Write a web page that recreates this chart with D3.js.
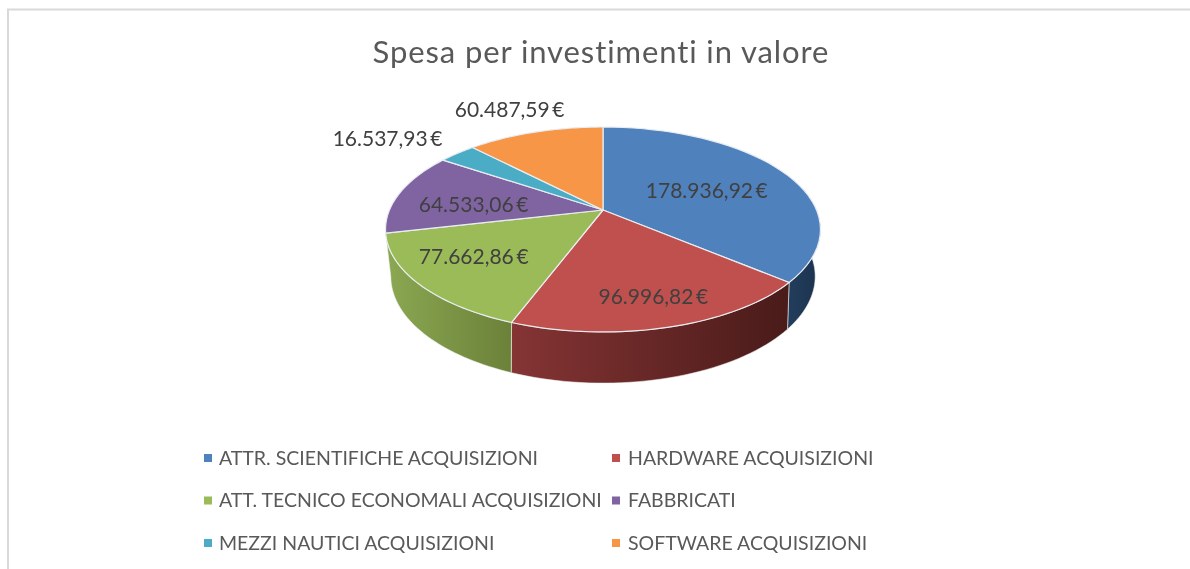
<!DOCTYPE html>
<html><head><meta charset="utf-8">
<script src="https://cdn.jsdelivr.net/npm/d3@7"></script>
<style>html,body{margin:0;padding:0;background:#fff}svg{display:block;filter:blur(0.45px)}text{font-family:Lato,"Open Sans",sans-serif}</style>
</head><body><svg id="c" width="1190" height="569"></svg>
<script>
const titleText = "Spesa per investimenti in valore";
const categories = ["ATTR. SCIENTIFICHE ACQUISIZIONI","HARDWARE ACQUISIZIONI","ATT. TECNICO ECONOMALI ACQUISIZIONI","FABBRICATI","MEZZI NAUTICI ACQUISIZIONI","SOFTWARE ACQUISIZIONI"];
const values = [178936.92,96996.82,77662.86,64533.06,16537.93,60487.59];
const valueLabels = ["178.936,92\u2009€","96.996,82\u2009€","77.662,86\u2009€","64.533,06\u2009€","16.537,93\u2009€","60.487,59\u2009€"];
const colors = ["#4f81bd","#c0504d","#9bbb59","#8064a2","#4bacc6","#f79646"];
const sideLeft = ["#24405f","#853434","#8ba852","#5f4a79","#38808f","#b86f34"];
const sideRight = ["#1b324e","#491b19","#6b8139","#4a3a60","#2c6571","#94582a"];
const labelNudge = [[-7,7],[14,24],[-25,7],[-6,7],[-124,-34],[-50,-49]];

const svg = d3.select("#c");
const defs = svg.append("defs");
const color = d3.scaleOrdinal(categories, colors);

// Frame
svg.append("path").attr("d","M8,569V9.5H1190").attr("fill","none").attr("stroke","#d9d9d9").attr("stroke-width",2);

svg.append("text").attr("x",601).attr("y",63).attr("text-anchor","middle")
  .attr("font-size",31).attr("letter-spacing",0.9).attr("fill","#595959").text(titleText);

// Pie angles through d3.pie, then a perspective projection of the disc
const arcs = d3.pie().sort(null).startAngle(0).endAngle(2*Math.PI)(values);
const projector = (cx,cy,R,A,k) => (t,f=1) => {
  const front = -Math.cos(t)*f, w = 1-k*front;
  return [cx+R*Math.sin(t)*f/w, cy+A*front/w];
};
const topP = projector(603,210,213.5,98.8,0.19);
const botP = projector(603,253,207,101.5,0.22);
const line = d3.line();
const sample = (a,b) => d3.range(0,41).map(i => a+(b-a)*i/40);

// Extruded side walls: only the slices that face the viewer (blue, red, green)
const frontSlices = arcs.slice(0,3);
const vis0 = 1.2;
frontSlices.forEach((d,i) => {
  const a = Math.max(d.startAngle,vis0), b = d.endAngle;
  const ts = sample(a,b);
  const pts = ts.map(t=>topP(t)).concat(ts.slice().reverse().map(t=>botP(t)));
  const xs = d3.extent(pts,p=>p[0]);
  const g = defs.append("linearGradient").attr("id","side"+i).attr("gradientUnits","userSpaceOnUse")
    .attr("x1",xs[0]).attr("x2",xs[1]).attr("y1",0).attr("y2",0);
  g.append("stop").attr("offset",0).attr("stop-color",sideLeft[i]);
  g.append("stop").attr("offset",1).attr("stop-color",sideRight[i]);
  svg.append("path").attr("d",line(pts)+"Z").attr("fill",`url(#side${i})`)
    .attr("stroke","#f4f4f4").attr("stroke-width",0.8).attr("stroke-opacity",0.7);
});

// Top face
svg.append("g").selectAll("path").data(arcs).join("path")
  .attr("d",d => line([topP(0,0)].concat(sample(d.startAngle,d.endAngle).map(t=>topP(t))))+"Z")
  .attr("fill",(d,i)=>color(categories[i]))
  .attr("stroke","#e9edf2").attr("stroke-width",1.2).attr("stroke-linejoin","round");

// Value labels
svg.append("g").selectAll("text").data(arcs).join("text")
  .attr("x",(d,i)=>topP((d.startAngle+d.endAngle)/2,0.6)[0]+labelNudge[i][0])
  .attr("y",(d,i)=>topP((d.startAngle+d.endAngle)/2,0.6)[1]+labelNudge[i][1])
  .attr("text-anchor","middle").attr("dominant-baseline","middle")
  .attr("font-size",21).attr("fill","#404040").text((d,i)=>valueLabels[i]);

// Legend
const colX = d3.scalePoint().domain([0,1]).range([204,612]);
const rowY = d3.scalePoint().domain([0,1,2]).range([458,543]);
const legend = svg.append("g").selectAll("g").data(categories).join("g")
  .attr("transform",(d,i)=>`translate(${colX(i%2)},${rowY(Math.floor(i/2))})`);
legend.append("rect").attr("x",0).attr("y",-4).attr("width",8).attr("height",8).attr("fill",d=>color(d));
legend.append("text").attr("x",(d,i)=>i%2?16:15).attr("y",2).attr("dominant-baseline","middle")
  .attr("font-size",19.5).attr("fill","#595959").text(d=>d);
</script></body></html>
